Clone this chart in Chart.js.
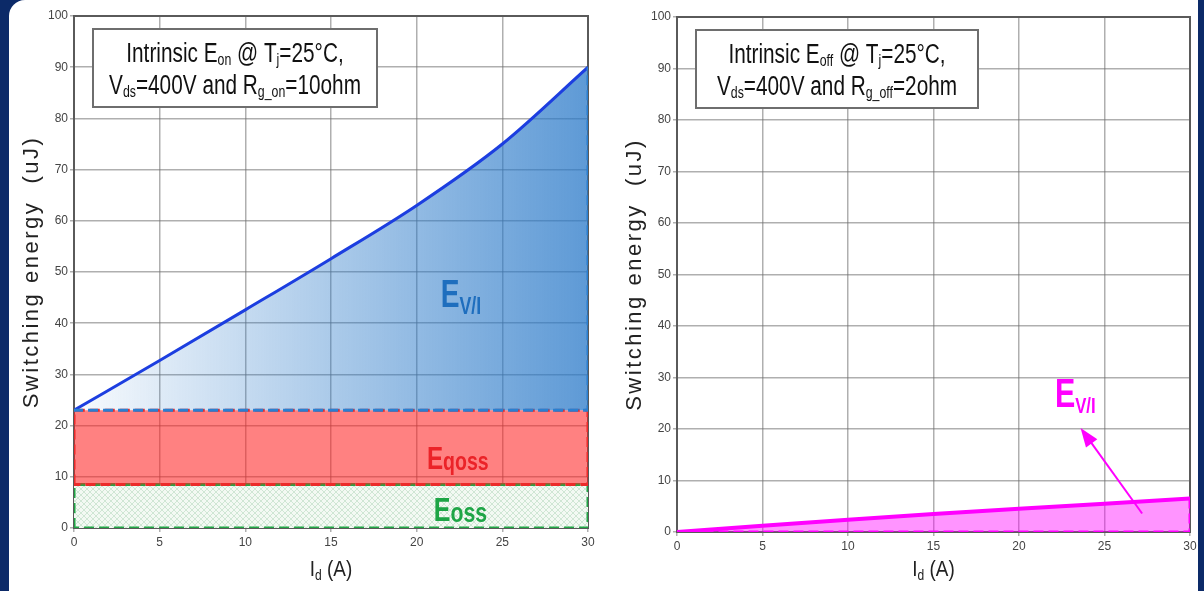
<!DOCTYPE html>
<html>
<head>
<meta charset="utf-8">
<script src="https://cdn.jsdelivr.net/npm/chart.js@4.4.1/dist/chart.umd.min.js"></script>
<style>
  html, body { margin: 0; padding: 0; }
  body { width: 1204px; height: 591px; background: #0c2a68; position: relative; overflow: hidden; }
  #hoja { position: absolute; left: 9px; top: 0; width: 1189px; height: 591px; background: #fff; border-top-left-radius: 16px; }
  .caja { position: absolute; top: 0; height: 591px; }
  #cajaOn { left: 0; width: 600px; }
  #cajaOff { left: 600px; width: 604px; }
</style>
</head>
<body>
<div id="hoja"></div>
<div class="caja" id="cajaOn"><canvas id="chartOn"></canvas></div>
<div class="caja" id="cajaOff"><canvas id="chartOff"></canvas></div>
<script>
// corriente de drenaje Id (A)
var corriente = [0, 5, 10, 15, 20, 25, 30];
// Eon: parte V/I sobre Eqoss (uJ)
var eonVI = [23, 32.7, 42.6, 52.6, 63, 75, 90];
var eqossTope = 23;
var eossTope = 8.5;
// Eoff: parte V/I (uJ)
var eoffVI = [0, 1.2, 2.4, 3.5, 4.5, 5.5, 6.5];
// marcas de los ejes
var ticksX = [0, 5, 10, 15, 20, 25, 30];
var ticksY = [0, 10, 20, 30, 40, 50, 60, 70, 80, 90, 100];
// flecha del grafico de apagado (desde, hasta) en unidades de datos
var flechaDesde = [27.2, 3.6];
var flechaHasta = [23.6, 20.2];

var FUENTE = "'Liberation Sans', Arial, sans-serif";

function puntos(xs, ys) {
    return xs.map(function (x, i) { return { x: x, y: ys[i] }; });
}

function rectangulo(x0, x1, y0, y1) {
    return [{ x: x0, y: y0 }, { x: x0, y: y1 }, { x: x1, y: y1 }, { x: x1, y: y0 }, { x: x0, y: y0 }];
}

function tramaVerde() {
    var c = document.createElement('canvas');
    c.width = 6; c.height = 6;
    var g = c.getContext('2d');
    g.fillStyle = '#f3f9f3';
    g.fillRect(0, 0, 6, 6);
    g.strokeStyle = 'rgba(140,195,155,0.35)';
    g.lineWidth = 1;
    g.beginPath();
    g.moveTo(0, 6); g.lineTo(6, 0);
    g.moveTo(0, 0); g.lineTo(6, 6);
    g.stroke();
    return g.createPattern(c, 'repeat');
}

function degradadoAzul(context) {
    var chart = context.chart;
    var area = chart.chartArea;
    if (!area) return 'rgba(40,120,200,0.4)';
    var g = chart.ctx.createLinearGradient(area.left, 0, area.right, 0);
    g.addColorStop(0, 'rgba(40,120,200,0.03)');
    g.addColorStop(1, 'rgba(40,120,200,0.75)');
    return g;
}

// texto con subindices: partes = [[texto, esSub], ...]
function textoRico(c, partes, x, y, f) {
    c.save();
    c.fillStyle = f.color;
    c.textBaseline = 'alphabetic';
    c.textAlign = 'left';
    var ancho = 0;
    partes.forEach(function (p) {
        c.font = (f.peso || '') + ' ' + (p[1] ? f.sub : f.size) + 'px ' + FUENTE;
        ancho += c.measureText(p[0]).width;
    });
    c.translate(x, y);
    c.scale(f.sx, 1);
    var px = f.centro ? -ancho / 2 : 0;
    partes.forEach(function (p) {
        c.font = (f.peso || '') + ' ' + (p[1] ? f.sub : f.size) + 'px ' + FUENTE;
        c.fillText(p[0], px, p[1] ? f.dy : 0);
        px += c.measureText(p[0]).width;
    });
    c.restore();
}

function crearAnotaciones(cfg) {
    return {
        id: 'anotaciones',
        beforeDatasetsDraw: function (chart) {
            var a = chart.chartArea, c = chart.ctx;
            c.save();
            c.strokeStyle = '#5a5a5a';
            c.lineWidth = 2;
            c.strokeRect(a.left, a.top, a.right - a.left, a.bottom - a.top);
            c.restore();
        },
        afterDraw: function (chart) {
            var a = chart.chartArea, c = chart.ctx;
            var sx = chart.scales.x, sy = chart.scales.y;

            // recuadro con condiciones
            var bx = a.left + 19, by = a.top + 13;
            c.save();
            c.fillStyle = '#fff';
            c.fillRect(bx, by, cfg.cajaAncho, 78);
            c.strokeStyle = '#6e6e6e';
            c.lineWidth = 2;
            c.strokeRect(bx, by, cfg.cajaAncho, 78);
            c.restore();
            var fCaja = { size: 27, sub: 16, dy: 3, sx: 0.77, color: '#111', centro: true };
            textoRico(c, cfg.linea1, bx + cfg.cajaAncho / 2, by + 33, fCaja);
            textoRico(c, cfg.linea2, bx + cfg.cajaAncho / 2, by + 65, fCaja);

            // etiquetas de energia
            cfg.etiquetas.forEach(function (e) {
                textoRico(c, [['E', 0], [e.sub, 1]], sx.getPixelForValue(e.x), sy.getPixelForValue(e.y),
                    { size: e.size, sub: e.subSize, dy: e.dy, sx: e.sx, color: e.color, peso: 'bold' });
            });

            // flecha
            if (cfg.flecha) {
                var x0 = sx.getPixelForValue(cfg.flecha[0][0]), y0 = sy.getPixelForValue(cfg.flecha[0][1]);
                var x1 = sx.getPixelForValue(cfg.flecha[1][0]), y1 = sy.getPixelForValue(cfg.flecha[1][1]);
                var ang = Math.atan2(y1 - y0, x1 - x0);
                c.save();
                c.strokeStyle = '#ff00ff';
                c.fillStyle = '#ff00ff';
                c.lineWidth = 2;
                c.beginPath();
                c.moveTo(x0, y0);
                c.lineTo(x1 - 12 * Math.cos(ang), y1 - 12 * Math.sin(ang));
                c.stroke();
                c.translate(x1, y1);
                c.rotate(ang);
                c.beginPath();
                c.moveTo(0, 0);
                c.lineTo(-19, -7);
                c.lineTo(-19, 7);
                c.closePath();
                c.fill();
                c.restore();
            }

            // titulo eje Y
            c.save();
            c.translate(a.left - 42, (a.top + a.bottom) / 2);
            c.rotate(-Math.PI / 2);
            c.font = '22px ' + FUENTE;
            c.fillStyle = '#222';
            c.textAlign = 'center';
            c.textBaseline = 'middle';
            c.letterSpacing = '2.5px';
            c.fillText('Switching energy  (uJ)', 0, 0);
            c.restore();

            // titulo eje X
            textoRico(c, [['I', 0], ['d', 1], [' (A)', 0]], (a.left + a.right) / 2, chart.height - 15,
                { size: 22, sub: 14, dy: 4, sx: 0.86, color: '#222', centro: true });
        }
    };
}

function opciones(cfg) {
    var rejilla = { color: 'rgba(110,110,110,0.55)', lineWidth: 1.5, tickLength: 4 };
    var borde = { display: true, color: '#5a5a5a', width: 2 };
    var fuenteTicks = { family: "'Liberation Sans Narrow', 'Liberation Sans', Arial", size: 12 };
    return {
        responsive: true,
        maintainAspectRatio: false,
        animation: false,
        layout: { padding: { left: 0, right: cfg.derecha, top: cfg.arriba, bottom: 0 } },
        plugins: { legend: { display: false }, tooltip: { enabled: false } },
        elements: { point: { radius: 0 } },
        scales: {
            x: {
                type: 'linear', min: 0, max: 30,
                afterBuildTicks: function (s) { s.ticks = ticksX.map(function (v) { return { value: v }; }); },
                afterFit: function (s) { s.height = cfg.altoX; },
                grid: rejilla, border: borde,
                ticks: { color: '#444', font: fuenteTicks, padding: 3, autoSkip: false, maxRotation: 0 }
            },
            y: {
                min: 0, max: 100,
                afterBuildTicks: function (s) { s.ticks = ticksY.map(function (v) { return { value: v }; }); },
                afterFit: function (s) { s.width = cfg.anchoY; },
                grid: rejilla, border: borde,
                ticks: { color: '#444', font: fuenteTicks, padding: 2, autoSkip: false }
            }
        }
    };
}

// ---- Eon ----
var ctxOn = document.getElementById('chartOn').getContext('2d');
new Chart(ctxOn, {
    type: 'line',
    data: {
        datasets: [{
            label: 'Eoss',
            data: rectangulo(0, 30, 0, eossTope),
            fill: 'shape',
            backgroundColor: tramaVerde(),
            borderColor: '#22a646',
            borderWidth: 3,
            borderDash: [10, 5],
            order: 5
        }, {
            label: 'Eqoss',
            data: rectangulo(0, 30, eossTope, eqossTope),
            fill: 'shape',
            backgroundColor: 'rgba(255,30,30,0.56)',
            borderColor: '#ec2a2a',
            borderWidth: 3,
            borderDash: [10, 5],
            order: 4
        }, {
            label: 'EV/I',
            data: puntos(corriente, eonVI),
            fill: { value: eqossTope },
            backgroundColor: degradadoAzul,
            borderColor: '#1c3ee0',
            borderWidth: 3,
            cubicInterpolationMode: 'monotone',
            order: 1
        }, {
            label: 'EV/I borde',
            data: [{ x: 30, y: eonVI[eonVI.length - 1] }, { x: 30, y: eqossTope }, { x: 0, y: eqossTope }],
            fill: false,
            borderColor: '#2a7fd0',
            borderWidth: 3,
            borderDash: [10, 5],
            borderDashOffset: 7,
            order: 0
        }]
    },
    options: opciones({ derecha: 12, arriba: 16, altoX: 63, anchoY: 74 }),
    plugins: [crearAnotaciones({
        cajaAncho: 284,
        linea1: [['Intrinsic E', 0], ['on', 1], [' @ T', 0], ['j', 1], ['=25°C,', 0]],
        linea2: [['V', 0], ['ds', 1], ['=400V and R', 0], ['g_on', 1], ['=10ohm', 0]],
        etiquetas: [
            { sub: 'V/I', x: 21.4, y: 43.1, size: 38, subSize: 24, dy: 7, sx: 0.74, color: '#1e6ebe' },
            { sub: 'qoss', x: 20.6, y: 11.5, size: 31, subSize: 25, dy: 1, sx: 0.78, color: '#eb2328' },
            { sub: 'oss', x: 21.0, y: 1.3, size: 33, subSize: 28, dy: 1, sx: 0.76, color: '#1ea546' }
        ]
    })]
});

// ---- Eoff ----
var ctxOff = document.getElementById('chartOff').getContext('2d');
new Chart(ctxOff, {
    type: 'line',
    data: {
        datasets: [{
            label: 'EV/I',
            data: puntos(corriente, eoffVI),
            fill: 'origin',
            backgroundColor: 'rgba(255,0,255,0.42)',
            borderColor: '#ff00ff',
            borderWidth: 4,
            order: 1
        }, {
            label: 'EV/I borde',
            data: [{ x: 30, y: eoffVI[eoffVI.length - 1] }, { x: 30, y: 0 }, { x: 0, y: 0 }],
            fill: false,
            borderColor: '#ff00ff',
            borderWidth: 3,
            borderDash: [10, 5],
            order: 0
        }]
    },
    options: opciones({ derecha: 14, arriba: 17, altoX: 59, anchoY: 77 }),
    plugins: [crearAnotaciones({
        cajaAncho: 282,
        linea1: [['Intrinsic E', 0], ['off', 1], [' @ T', 0], ['j', 1], ['=25°C,', 0]],
        linea2: [['V', 0], ['ds', 1], ['=400V and R', 0], ['g_off', 1], ['=2ohm', 0]],
        etiquetas: [
            { sub: 'V/I', x: 22.1, y: 24.3, size: 40, subSize: 22, dy: 6, sx: 0.76, color: '#ff00ff' }
        ],
        flecha: [flechaDesde, flechaHasta]
    })]
});
</script>
</body>
</html>
